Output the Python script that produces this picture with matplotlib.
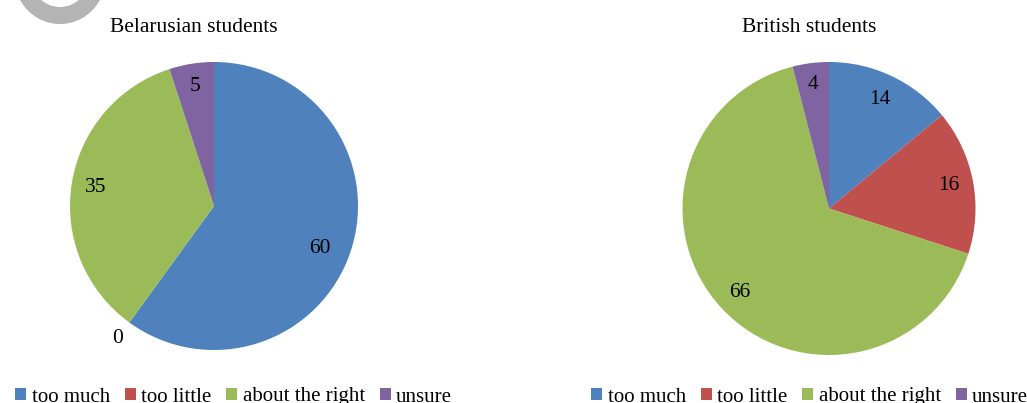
import matplotlib
matplotlib.use("Agg")
import matplotlib.pyplot as plt
from matplotlib.patches import Patch, Wedge
import numpy as np

plt.rcParams['font.family'] = ['Liberation Serif', 'DejaVu Serif']

categories = ["too much", "too little", "about the right", "unsure"]
belarusian = [60, 0, 35, 5]
british = [14, 16, 66, 4]
titles = ["Belarusian students", "British students"]
colors = ["#4F81BD", "#C0504D", "#9BBB59", "#8064A2"]

W, H = 1027, 403
fig = plt.figure(figsize=(W / 100, H / 100), dpi=100)

# background decoration (grey ring artifact, top-left)
bg = fig.add_axes([0, 0, 1, 1])
bg.set_xlim(0, W)
bg.set_ylim(H, 0)
bg.axis('off')
bg.add_patch(Wedge((60, -21), 45, 0, 360, width=17, color="#B4B4B4", lw=0))

FS = 15.5

def draw_pie(values, cx, cy, r, label_dist, label_rot, title, title_x, legend_x):
    ax = fig.add_axes([(cx - r) / W, (H - cy - r) / H, 2 * r / W, 2 * r / H])
    wedges, _ = ax.pie(values, colors=colors, startangle=90, counterclock=False,
                       radius=1.0, wedgeprops=dict(linewidth=0))
    ax.set_xlim(-1, 1)
    ax.set_ylim(-1, 1)
    ax.set_aspect('equal')
    ax.axis('off')
    for w, v, d, rot in zip(wedges, values, label_dist, label_rot):
        ang = np.deg2rad((w.theta1 + w.theta2) / 2 + rot)
        ax.text(d * np.cos(ang), d * np.sin(ang), f"{v}", ha='center', va='center',
                fontsize=FS, clip_on=False)
    fig.text(title_x / W, 1 - 32 / H, title, ha='center', va='baseline', fontsize=FS)
    handles = [Patch(facecolor=c, edgecolor='none') for c in colors]
    fig.legend(handles, categories, loc='center left',
               bbox_to_anchor=(legend_x / W, 1 - 397 / H), ncol=4, frameon=False,
               fontsize=15, handlelength=0.55, handleheight=0.55, handletextpad=0.25,
               columnspacing=0.7, borderpad=0, borderaxespad=0)

draw_pie(belarusian, 214, 206, 144, [0.79, 1.14, 0.83, 0.84], [-4, 0, 0, 0],
         titles[0], 194, 15)
draw_pie(british, 829, 208.5, 146.5, [0.82, 0.83, 0.84, 0.85], [0, 0, 0, 0],
         titles[1], 809.5, 591)

fig.savefig("out.png", dpi=100)
